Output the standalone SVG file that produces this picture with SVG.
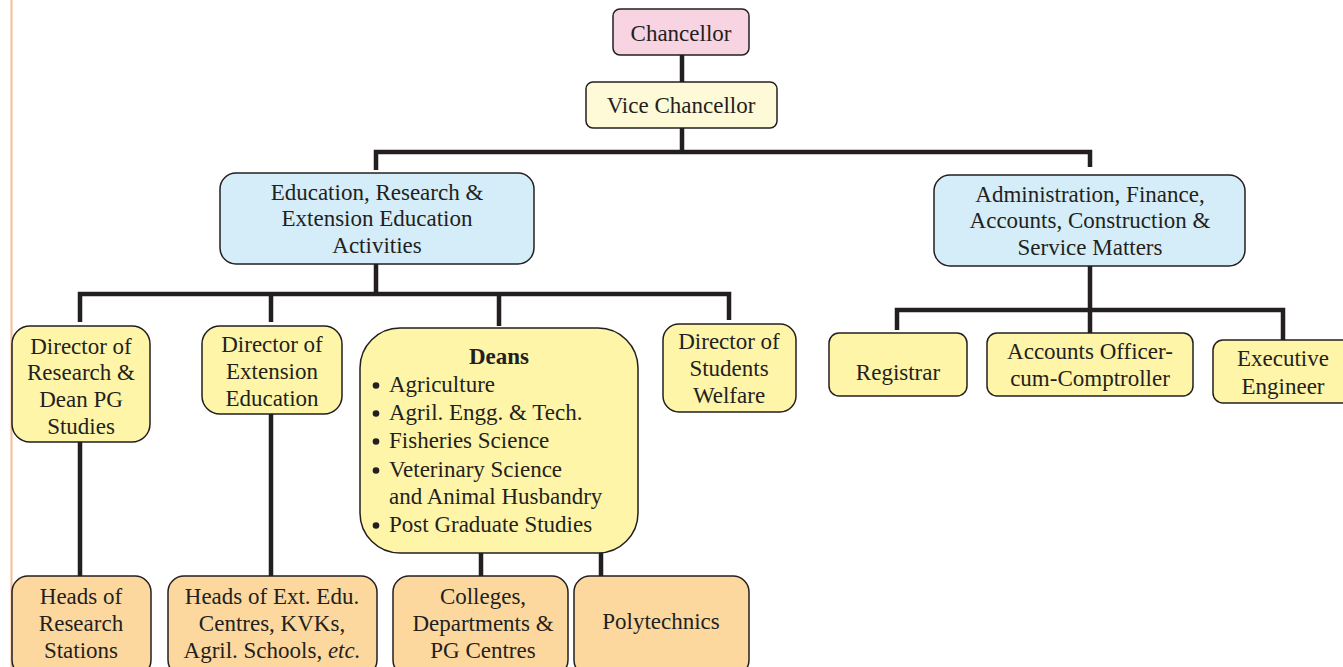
<svg xmlns="http://www.w3.org/2000/svg" width="1343" height="667" viewBox="0 0 1343 667">
<style>
text{font-family:"Liberation Serif","Times New Roman",serif;font-size:23px;fill:#231f20;text-anchor:middle}
.box{stroke:#231f20;stroke-width:1.5}
.pink{fill:#f8d3e1}
.cream{fill:#fefad7}
.blue{fill:#d5edf9}
.yel{fill:#fef5a8}
.peach{fill:#fdd89e}
.conn{fill:none;stroke:#231f20;stroke-width:4.5;stroke-linejoin:miter}
.left{text-anchor:start}
.bul{fill:#231f20}
</style>
<rect width="1343" height="667" fill="#ffffff"/>
<line x1="11.5" y1="0" x2="11.5" y2="667" stroke="#f9bc8f" stroke-width="2"/>
<g id="connectors" class="conn">
<path d="M682 55V82"/>
<path d="M682 128V152M376 170V152H1090V167"/>
<path d="M376 264V294M80 322V294H729V320M271 294V322M499 294V326"/>
<path d="M80 442V576M271 414V576M481 553V576M601 553V576"/>
<path d="M1090 266V310M897 330V310H1283V340M1090 310V333"/>
</g>
<g id="chancellor"><rect class="box pink" x="613" y="9" width="136" height="46" rx="7"/><text x="681" y="41">Chancellor</text></g>
<g id="vice-chancellor"><rect class="box cream" x="586" y="82" width="191" height="46" rx="7"/><text x="681" y="113">Vice Chancellor</text></g>
<g id="education"><rect class="box blue" x="220" y="173" width="314" height="91" rx="16"/>
<text x="377" y="200">Education, Research &amp;</text><text x="377" y="226">Extension Education</text><text x="377" y="253">Activities</text></g>
<g id="administration"><rect class="box blue" x="934" y="175" width="311" height="91" rx="16"/>
<text x="1090" y="202">Administration, Finance,</text><text x="1090" y="228">Accounts, Construction &amp;</text><text x="1090" y="255">Service Matters</text></g>
<g id="dir-research"><rect class="box yel" x="12" y="326" width="138" height="116" rx="18"/>
<text x="81" y="354">Director of</text><text x="81" y="380">Research &amp;</text><text x="81" y="407">Dean PG</text><text x="81" y="434">Studies</text></g>
<g id="dir-extension"><rect class="box yel" x="202" y="326" width="140" height="88" rx="18"/>
<text x="272" y="352">Director of</text><text x="272" y="379">Extension</text><text x="272" y="406">Education</text></g>
<g id="deans"><rect class="box yel" x="360" y="328" width="278" height="225" rx="40"/>
<text x="499" y="364" font-weight="bold">Deans</text>
<circle class="bul" cx="376" cy="385.5" r="3.3"/><text class="left" x="389" y="392">Agriculture</text>
<circle class="bul" cx="376" cy="413.5" r="3.3"/><text class="left" x="389" y="420">Agril. Engg. &amp; Tech.</text>
<circle class="bul" cx="376" cy="441.5" r="3.3"/><text class="left" x="389" y="448">Fisheries Science</text>
<circle class="bul" cx="376" cy="470.5" r="3.3"/><text class="left" x="389" y="477">Veterinary Science</text>
<text class="left" x="389" y="504">and Animal Husbandry</text>
<circle class="bul" cx="376" cy="525.5" r="3.3"/><text class="left" x="389" y="532">Post Graduate Studies</text></g>
<g id="dir-students"><rect class="box yel" x="663" y="324" width="133" height="88" rx="16"/>
<text x="729" y="349">Director of</text><text x="729" y="376">Students</text><text x="729" y="403">Welfare</text></g>
<g id="registrar"><rect class="box yel" x="829" y="333" width="138" height="63" rx="10"/><text x="898" y="380">Registrar</text></g>
<g id="accounts"><rect class="box yel" x="987" y="333" width="206" height="63" rx="10"/>
<text x="1090" y="359">Accounts Officer-</text><text x="1090" y="386">cum-Comptroller</text></g>
<g id="exec-engineer"><rect class="box yel" x="1213" y="340" width="142" height="63" rx="10"/>
<text x="1283" y="366">Executive</text><text x="1283" y="394">Engineer</text></g>
<g id="heads-research"><rect class="box peach" x="12" y="576" width="139" height="100" rx="16"/>
<text x="81" y="604">Heads of</text><text x="81" y="631">Research</text><text x="81" y="658">Stations</text></g>
<g id="heads-ext"><rect class="box peach" x="168" y="576" width="209" height="100" rx="16"/>
<text x="272" y="604">Heads of Ext. Edu.</text><text x="272" y="631">Centres, KVKs,</text><text x="272" y="658">Agril. Schools, <tspan font-style="italic">etc.</tspan></text></g>
<g id="colleges"><rect class="box peach" x="393" y="576" width="175" height="100" rx="16"/>
<text x="483" y="604">Colleges,</text><text x="483" y="631">Departments &amp;</text><text x="483" y="658">PG Centres</text></g>
<g id="polytechnics"><rect class="box peach" x="574" y="576" width="175" height="100" rx="16"/>
<text x="661" y="629">Polytechnics</text></g>
</svg>
